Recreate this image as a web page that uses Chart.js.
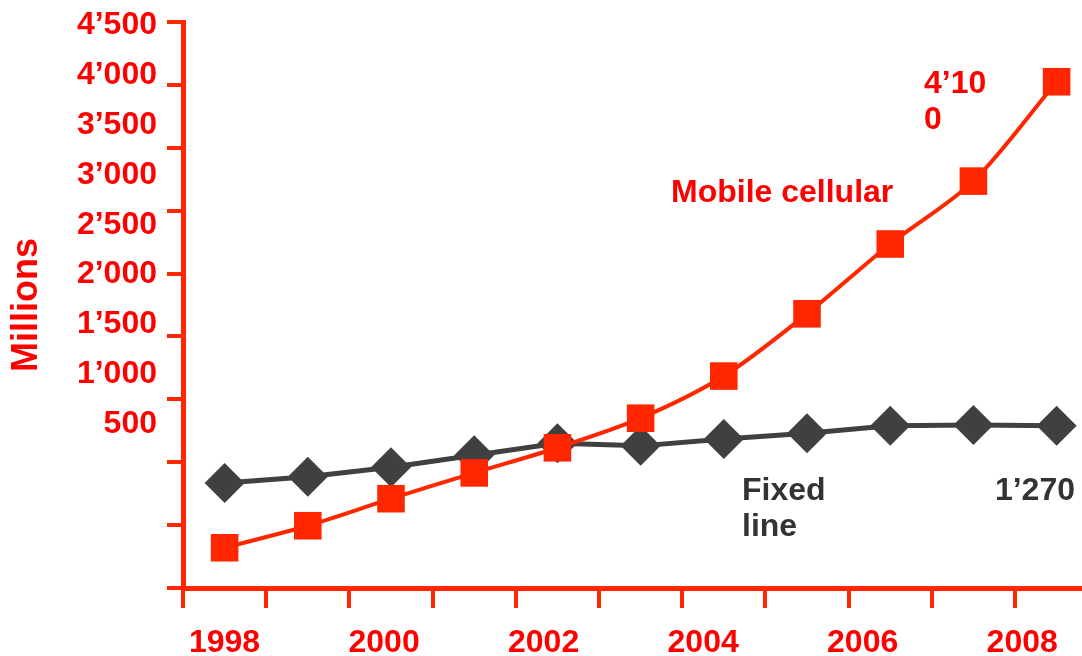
<!DOCTYPE html>
<html>
<head>
<meta charset="utf-8">
<script src="https://cdn.jsdelivr.net/npm/chart.js@4.4.1/dist/chart.umd.min.js"></script>
<style>
  html, body { margin: 0; padding: 0; background: #fff; }
  #wrap { width: 1082px; height: 656px; position: relative; }
</style>
</head>
<body>
<div id="wrap"><canvas id="subsChart"></canvas></div>
<script>
// data (millions)
const years = [1998, 1999, 2000, 2001, 2002, 2003, 2004, 2005, 2006, 2007, 2008];
const mobileCellular = [320, 495, 710, 915, 1115, 1350, 1685, 2180, 2735, 3235, 4025];
const fixedLine = [835, 885, 960, 1055, 1150, 1130, 1185, 1230, 1290, 1295, 1290];

// axis labels as printed
const yearLabels = ['1998', '2000', '2002', '2004', '2006', '2008'];
const valueLabels = ['4’500', '4’000', '3’500', '3’000', '2’500', '2’000', '1’500', '1’000', '500'];

const RED = '#ff2600';
const TEXT_RED = '#fe0000';
const DARK = '#404040';
const FONT = "'Liberation Sans', Arial, sans-serif";

// no extra room for half-labels, the frame is fixed by hand
function noPadding(axis) {
    axis.paddingTop = 0;
    axis.paddingBottom = 0;
    axis.paddingLeft = 0;
    axis.paddingRight = 0;
}

// free text that sits on the plot
const notesPlugin = {
    id: 'notes',
    afterDatasetsDraw(chart) {
        const c = chart.ctx;
        c.save();
        c.font = 'bold 32px ' + FONT;
        c.textBaseline = 'alphabetic';
        c.fillStyle = TEXT_RED;
        c.textAlign = 'left';
        c.fillText('Mobile cellular', 671, 202);
        c.fillText('4’10', 924, 93);
        c.fillText('0', 924, 129);
        c.fillStyle = '#333333';
        c.fillText('Fixed', 742, 500);
        c.fillText('line', 742, 536);
        c.textAlign = 'right';
        c.fillText('1’270', 1075, 500);
        c.restore();
    }
};

const ctx = document.getElementById('subsChart');

new Chart(ctx, {
    type: 'line',
    data: {
        datasets: [{
            label: 'Mobile cellular',
            data: years.map((yr, i) => ({ x: yr, y: mobileCellular[i] })),
            borderColor: RED,
            backgroundColor: RED,
            borderWidth: 4,
            tension: 0.3,
            pointStyle: 'rect',
            pointRadius: 19.5,
            pointBorderWidth: 0,
            clip: false
        },
        {
            label: 'Fixed line',
            data: years.map((yr, i) => ({ x: yr, y: fixedLine[i] })),
            borderColor: DARK,
            backgroundColor: DARK,
            borderWidth: 5,
            tension: 0,
            pointStyle: 'rectRot',
            pointRadius: 20,
            pointBorderWidth: 0,
            clip: false
        }]
    },
    options: {
        responsive: true,
        maintainAspectRatio: false,
        animation: false,
        layout: {
            autoPadding: false,
            padding: { top: 22, right: 0, bottom: 0, left: 0 }
        },
        plugins: {
            legend: { display: false },
            tooltip: { enabled: false }
        },
        scales: {
            x: {
                type: 'linear',
                position: 'bottom',
                weight: 0,
                min: 1997.5,
                max: 2008.305,
                afterBuildTicks: axis => {
                    axis.ticks = years.map(yr => ({ value: yr - 0.5 }));
                },
                afterFit: axis => { axis.height = 20; noPadding(axis); },
                ticks: { display: false },
                grid: {
                    drawOnChartArea: false,
                    drawTicks: true,
                    tickLength: 20,
                    color: RED,
                    lineWidth: 4
                },
                border: { color: RED, width: 5 }
            },
            xl: {
                type: 'linear',
                position: 'bottom',
                weight: 1,
                min: 1997.479,
                max: 2008.75,
                afterBuildTicks: axis => {
                    axis.ticks = yearLabels.map(l => ({ value: Number(l) }));
                },
                afterFit: axis => { axis.height = 48; noPadding(axis); },
                ticks: {
                    padding: 16,
                    color: TEXT_RED,
                    font: { family: FONT, size: 32, weight: 'bold' },
                    maxRotation: 0,
                    autoSkip: false,
                    callback: v => String(v)
                },
                grid: { display: false, drawTicks: false },
                border: { display: false }
            },
            y: {
                type: 'linear',
                position: 'left',
                weight: 0,
                min: 0,
                max: 4500,
                ticks: { display: false, stepSize: 500 },
                afterFit: axis => { axis.width = 16; noPadding(axis); },
                grid: {
                    drawOnChartArea: false,
                    drawTicks: true,
                    tickLength: 16,
                    color: RED,
                    lineWidth: 4
                },
                border: { color: RED, width: 5 }
            },
            yl: {
                type: 'linear',
                position: 'left',
                weight: 1,
                min: -1147,
                max: 4535,
                afterBuildTicks: axis => {
                    axis.ticks = valueLabels.map(l => ({ value: Number(l.replace('’', '')) }));
                },
                afterFit: axis => { axis.width = 167; noPadding(axis); },
                ticks: {
                    padding: 10,
                    color: TEXT_RED,
                    font: { family: FONT, size: 32, weight: 'bold' },
                    autoSkip: false,
                    callback: v => valueLabels.find(l => Number(l.replace('’', '')) === v)
                },
                title: {
                    display: true,
                    text: 'Millions',
                    color: TEXT_RED,
                    font: { family: FONT, size: 36, weight: 'bold' },
                    padding: { top: 5, bottom: 0 }
                },
                grid: { display: false, drawTicks: false },
                border: { display: false }
            }
        }
    },
    plugins: [notesPlugin]
});
</script>
</body>
</html>
